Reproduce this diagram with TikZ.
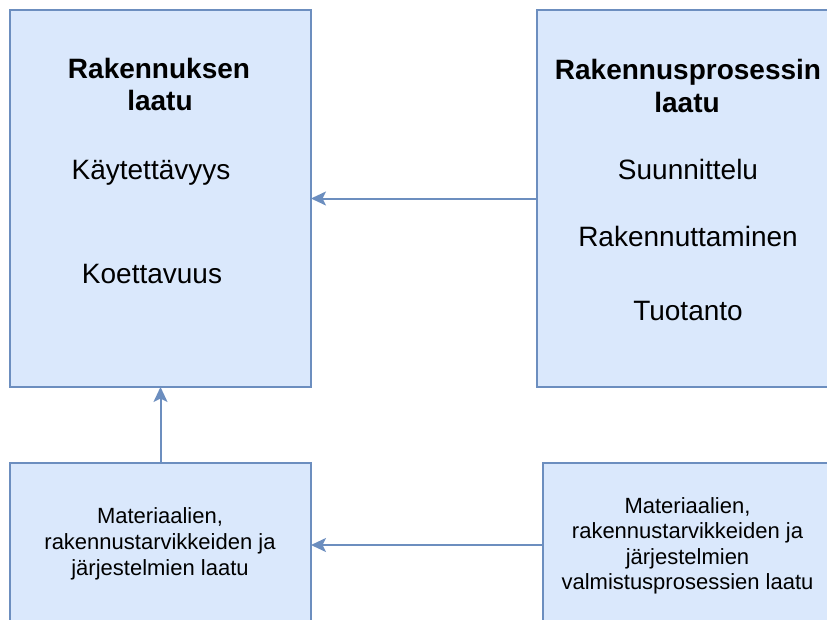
\documentclass[tikz,border=0pt]{standalone}
\usepackage{fontspec}
\setmainfont{Liberation Sans}
\usetikzlibrary{arrows.meta}
\definecolor{boxfill}{HTML}{DAE8FC}
\definecolor{boxline}{HTML}{6C8EBF}
\begin{document}
\begin{tikzpicture}[x=1pt,y=-1pt,
  panel/.style={draw=boxline, fill=boxfill, line width=2pt, rectangle,
    anchor=north west, inner sep=0pt, outer sep=0pt},
  head/.style={font=\fontsize{28}{32}\selectfont\bfseries, anchor=base, inner sep=0pt},
  item/.style={font=\fontsize{28}{32}\selectfont, anchor=base, inner sep=0pt},
  small/.style={font=\fontsize{22}{26}\selectfont, anchor=base, inner sep=0pt},
  link/.style={draw=boxline, line width=2pt,
    -{Stealth[length=15pt,width=14pt,inset=3.5pt]}}
]
\useasboundingbox (0,0) rectangle (827,619);
\clip (0,0) rectangle (827,619);

% boxes
\node[panel, minimum width=301pt, minimum height=377pt] (tl) at (10,10) {};
\node[panel, minimum width=301pt, minimum height=377pt] (tr) at (537,10) {};
\node[panel, minimum width=301pt, minimum height=164pt] (bl) at (10,463) {};
\node[panel, minimum width=289pt, minimum height=164pt] (br) at (543,463) {};

% building quality
\node[head] (tl1) at (159,78) {Rakennuksen};
\node[head] (tl2) at (160,110) {laatu};
\node[item] (tl3) at (151,179) {Käytettävyys};
\node[item] (tl4) at (152,283) {Koettavuus};

% construction process quality
\node[head] (tr1) at (688,79) {Rakennusprosessin};
\node[head] (tr2) at (687,112) {laatu};
\node[item] (tr3) at (688,179) {Suunnittelu};
\node[item] (tr4) at (688,246) {Rakennuttaminen};
\node[item] (tr5) at (688,320) {Tuotanto};

% materials and systems
\node[small] (bl1) at (160,523) {Materiaalien,};
\node[small] (bl2) at (160,549) {rakennustarvikkeiden ja};
\node[small] (bl3) at (160,575) {järjestelmien laatu};

% manufacturing processes
\node[small] (br1) at (687.5,513) {Materiaalien,};
\node[small] (br2) at (687.5,538) {rakennustarvikkeiden ja};
\node[small] (br3) at (687.5,564) {järjestelmien};
\node[small] (br4) at (687.5,589) {valmistusprosessien laatu};

% connectors
\draw[link] (tr.west) -- (tl.east);
\draw[link] (bl.north) -- (tl.south);
\draw[link] (br.west) -- (bl.east);
\end{tikzpicture}
\end{document}
